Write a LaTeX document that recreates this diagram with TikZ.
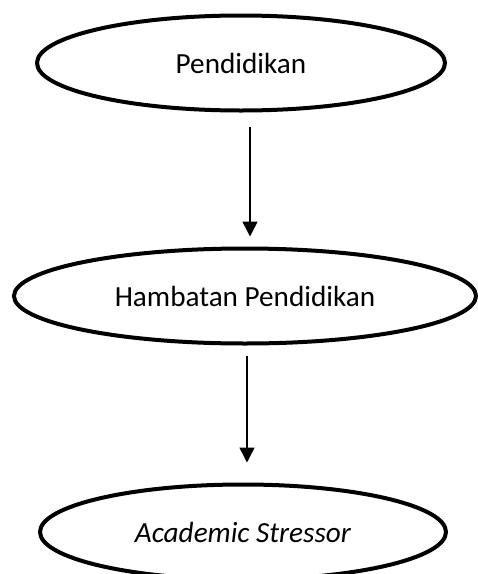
\documentclass[tikz,border=0pt]{standalone}
\usepackage{fontspec}
\setmainfont{Carlito}
\usetikzlibrary{shapes.geometric,arrows.meta}
\begin{document}
\begin{tikzpicture}[x=1pt,y=-1pt]
  \tikzstyle{stage}=[ellipse, draw=black, line width=4pt, inner sep=0pt, font=\fontsize{29.2}{34}\selectfont]
  \tikzstyle{flow}=[-{Triangle[width=15pt,length=15pt]}, line width=1.5pt]
  \useasboundingbox (0,0) rectangle (478,574);
  \node[stage, minimum width=408pt, minimum height=95pt] (edu) at (241,63) {Pendidikan};
  \node[stage, minimum width=462pt, minimum height=95pt] (barrier) at (245,296) {Hambatan Pendidikan};
  \node[stage, minimum width=406pt, minimum height=95pt] (stress) at (243,532) {\textit{Academic Stressor}};
  \draw[flow, shorten <=14pt, shorten >=10pt] ([xshift=9pt]edu.south) -- ([xshift=9pt]edu.south |- barrier.north);
  \draw[flow, shorten <=10pt, shorten >=20pt] ([xshift=2pt]barrier.south) -- ([xshift=2pt]barrier.south |- stress.north);
\end{tikzpicture}
\end{document}
